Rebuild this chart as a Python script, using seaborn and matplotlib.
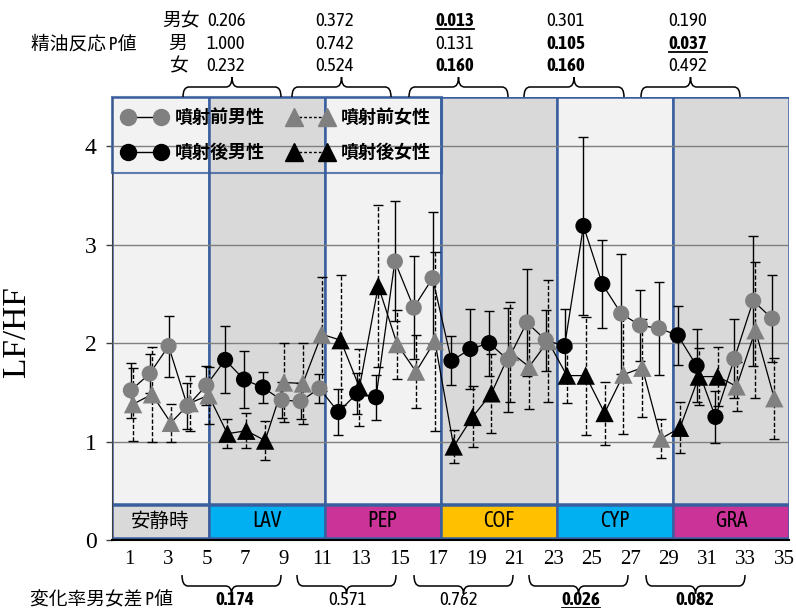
import numpy as np
import pandas as pd
import matplotlib.pyplot as plt
import seaborn as sns
from matplotlib import font_manager
from matplotlib.path import Path
from matplotlib.patches import PathPatch
from matplotlib.lines import Line2D

# ---- data ----
phase = ['前', '前', '前', '前', '前',
         '後', '後', '後', '前', '前', '前',
         '後', '後', '後', '前', '前', '前',
         '後', '後', '後', '前', '前', '前',
         '後', '後', '後', '前', '前', '前',
         '後', '後', '後', '前', '前', '前']

male_mean = [1.52, 1.69, 1.97, 1.36, 1.57, 1.83, 1.63, 1.55, 1.42, 1.41, 1.54,
             1.30, 1.49, 1.45, 2.83, 2.36, 2.66, 1.82, 1.94, 2.00, 1.83, 2.21,
             2.03, 1.97, 3.19, 2.60, 2.30, 2.18, 2.15, 2.08, 1.77, 1.25, 1.84,
             2.43, 2.25]
male_sd = [0.28, 0.20, 0.31, 0.23, 0.20, 0.34, 0.29, 0.16, 0.18, 0.18, 0.15,
           0.23, 0.21, 0.23, 0.61, 0.52, 0.67, 0.25, 0.41, 0.33, 0.53, 0.54,
           0.31, 0.38, 0.90, 0.45, 0.61, 0.36, 0.47, 0.30, 0.37, 0.26, 0.40,
           0.66, 0.44]

female_mean = [1.38, 1.48, 1.19, 1.39, 1.47, 1.08, 1.11, 1.01, 1.60, 1.59, 2.09,
               2.03, 1.55, 2.58, 1.99, 1.71, 2.02, 0.95, 1.25, 1.49, 1.91, 1.76,
               2.02, 1.67, 1.67, 1.29, 1.68, 1.75, 1.03, 1.14, 1.66, 1.66, 1.56,
               2.13, 1.44]
female_sd = [0.37, 0.48, 0.19, 0.28, 0.29, 0.15, 0.18, 0.20, 0.40, 0.41, 0.58,
             0.66, 0.39, 0.82, 0.35, 0.37, 0.91, 0.17, 0.31, 0.40, 0.51, 0.43,
             0.62, 0.28, 0.60, 0.32, 0.60, 0.50, 0.20, 0.26, 0.29, 0.30, 0.25,
             0.69, 0.41]

band_names = ['安静時', 'LAV', 'PEP', 'COF', 'CYP', 'GRA']
band_edges = [0, 5, 11, 17, 23, 29, 35]
band_colors = ['#d9d9d9', '#00b0f0', '#cc3399', '#ffc000', '#00b0f0', '#cc3399']
band_bg = ['#f2f2f2', '#d9d9d9', '#f2f2f2', '#d9d9d9', '#f2f2f2', '#d9d9d9']

tick_labels = list(range(1, 36, 2))

p_both = ['0.206', '0.372', '0.013', '0.301', '0.190']
p_male = ['1.000', '0.742', '0.131', '0.105', '0.037']
p_female = ['0.232', '0.524', '0.160', '0.160', '0.492']
p_diff = ['0.174', '0.571', '0.762', '0.026', '0.082']
# 0 = plain, 1 = bold, 2 = bold + underline
st_both = [0, 0, 2, 0, 0]
st_male = [0, 0, 0, 1, 2]
st_female = [0, 0, 1, 1, 0]
st_diff = [1, 0, 0, 2, 1]

df = pd.DataFrame({'pos': np.arange(1, len(male_mean) + 1), 'phase': phase,
                   'male': male_mean, 'male_sd': male_sd,
                   'female': female_mean, 'female_sd': female_sd})
df['pos_f'] = df['pos'] + 0.12

# ---- fonts: look for a condensed sans that has a bold face ----
ttf = font_manager.fontManager.ttflist
weights = {}
for f in ttf:
    if ('Narrow' in f.name or 'Condensed' in f.name) and f.style == 'normal':
        w = f.weight if isinstance(f.weight, int) else (700 if 'bold' in str(f.weight) else 400)
        weights.setdefault(f.name, set()).add(w)
narrow, stretch = 'Liberation Sans', 'normal'
for name, ws in weights.items():
    if min(ws) <= 400 and max(ws) >= 700:
        narrow = name
        break
else:
    for f in ttf:
        if f.name == 'DejaVu Sans' and f.stretch in ('condensed', 'semi-condensed'):
            narrow, stretch = 'DejaVu Sans', 'condensed'
            break
serif = 'Liberation Serif'
cjk = 'Noto Sans CJK JP'
plt.rcParams['font.family'] = [narrow, cjk, 'DejaVu Sans']
num_size = 13.5 if narrow != 'Liberation Sans' else 11.5

W, H = 796, 608
fig = plt.figure(figsize=(W / 100, H / 100), dpi=100)
ax = fig.add_axes([112 / W, 1 - 540 / H, 677 / W, 443 / H])

XMAX = 35.9
sc = XMAX / 35
YMAX = 4.5
blue = '#3a5f9f'

# background bands + label boxes
for i, name in enumerate(band_names):
    x0, x1 = band_edges[i] * sc, band_edges[i + 1] * sc
    ax.axvspan(x0, x1, ymin=0.37 / YMAX, ymax=1, facecolor=band_bg[i],
               edgecolor=blue, lw=1.8, zorder=0.1)
    ax.axvspan(x0, x1, ymin=0.02 / YMAX, ymax=0.355 / YMAX, facecolor=band_colors[i],
               edgecolor=blue, lw=1.8, zorder=0.2)
    ax.text((x0 + x1) / 2, 0.19, name, ha='center', va='center',
            fontsize=14 if i == 0 else 15.5,
            family=[narrow, cjk], fontstretch=stretch, zorder=6)

# error bars
eb = ax.errorbar(df['pos'], df['male'], yerr=df['male_sd'], fmt='none', ecolor='black',
                 elinewidth=1, capsize=3.5, capthick=1, zorder=2.6)
eb = ax.errorbar(df['pos_f'], df['female'], yerr=df['female_sd'], fmt='none', ecolor='black',
                 elinewidth=1, capsize=3.5, capthick=1, zorder=2.6)
eb[2][0].set_linestyle((0, (3, 1.5)))

# connecting lines
sns.lineplot(data=df, x='pos', y='male', color='black', lw=0.9, estimator=None,
             sort=False, ax=ax, zorder=3)
sns.lineplot(data=df, x='pos_f', y='female', color='black', lw=0.9, estimator=None,
             sort=False, ax=ax, zorder=3)

pal = {'前': '#808080', '後': 'black'}
sns.scatterplot(data=df, x='pos', y='male', hue='phase', palette=pal, marker='o', s=135,
                linewidth=0, legend=False, ax=ax, zorder=4)
sns.scatterplot(data=df, x='pos_f', y='female', hue='phase', palette=pal, marker='^', s=175,
                linewidth=0, legend=False, ax=ax, zorder=5)

ax.set_xlim(0, XMAX)
ax.set_ylim(0, YMAX)
ax.set_yticks([0, 1, 2, 3, 4])
ax.set_yticklabels(['0', '1', '2', '3', '4'], fontfamily=serif, fontsize=17)
ax.set_xticks((110.5 + 19.25 * np.array(tick_labels) - 112) / (677 / XMAX))
ax.set_xticklabels([str(t) for t in tick_labels], fontfamily=serif, fontsize=15)
ax.tick_params(axis='y', length=4, width=1, pad=7, color='#404040')
ax.tick_params(axis='x', length=0, pad=7)
ax.set_xlabel('')
ax.set_ylabel('LF/HF', fontfamily=serif, fontsize=24)
ax.yaxis.set_label_coords(-0.118, 0.47)
ax.grid(axis='y', color='#7f7f7f', lw=1)
ax.set_axisbelow(True)
for s in ['top', 'right']:
    ax.spines[s].set_visible(False)
ax.spines['left'].set_color('#404040')
ax.spines['bottom'].set_color('black')
ax.spines['bottom'].set_linewidth(1.5)

# legend
gray = '#808080'
handles = [
    Line2D([0], [0], color='black', lw=1, marker='o', ms=11.5, mfc=gray, mec=gray),
    Line2D([0], [0], color='black', lw=1, marker='o', ms=11.5, mfc='black', mec='black'),
    Line2D([0], [0], color='black', lw=1, ls=(0, (2, 1.5)), marker='^', ms=13, mfc=gray, mec=gray),
    Line2D([0], [0], color='black', lw=1, ls=(0, (2, 1.5)), marker='^', ms=13, mfc='black', mec='black'),
]
labels = ['噴射前男性', '噴射後男性', '噴射前女性', '噴射後女性']
leg = ax.legend(handles, labels, ncol=2, numpoints=2, loc='upper left', bbox_to_anchor=(0, 1),
                borderaxespad=0, handlelength=2.4, handletextpad=0.5, columnspacing=1.3,
                borderpad=0.6, labelspacing=0.9, fancybox=False,
                prop={'family': [cjk], 'weight': 'bold', 'size': 13})
leg.get_frame().set_facecolor('none')
leg.get_frame().set_edgecolor(blue)
leg.get_frame().set_linewidth(1.5)
leg.set_zorder(7)


def fx(x):
    return x / W


def fy(y):
    return 1 - y / H


def brace(xl, xr, y_end, y_mid, y_tip, r=6):
    xm = (xl + xr) / 2
    pts = [(xl, y_end), (xl, y_mid), (xl + r, y_mid), (xm - r, y_mid), (xm, y_mid), (xm, y_tip),
           (xm, y_mid), (xm + r, y_mid), (xr - r, y_mid), (xr, y_mid), (xr, y_end)]
    codes = [Path.MOVETO, Path.CURVE3, Path.CURVE3, Path.LINETO, Path.CURVE3, Path.CURVE3,
             Path.CURVE3, Path.CURVE3, Path.LINETO, Path.CURVE3, Path.CURVE3]
    path = Path([(fx(a), fy(b)) for a, b in pts], codes)
    fig.add_artist(PathPatch(path, facecolor='none', edgecolor='black', lw=1.1,
                             transform=fig.transFigure))


top_x = [226, 335, 455, 566, 688]
top_braces = [(183, 281), (292, 391), (409, 508), (524, 624), (641, 740)]
bot_x = [235, 348, 459, 581, 695]
bot_braces = [(182, 281), (297, 396), (414, 513), (529, 628), (646, 745)]

underlined = []


def ptext(x, y, s, style):
    t = fig.text(fx(x), fy(y), s, ha='center', va='center', fontsize=num_size,
                 family=[narrow], fontstretch=stretch, weight='bold' if style else 'normal')
    if style == 2:
        underlined.append(t)


for rows_y, vals, sts in [(21, p_both, st_both), (44, p_male, st_male), (66, p_female, st_female)]:
    for x, v, s in zip(top_x, vals, sts):
        ptext(x, rows_y, v, s)
for x, v, s in zip(bot_x, p_diff, st_diff):
    ptext(x, 600, v, s)

fig.text(fx(84), fy(45), '精油反応 P値', ha='center', va='center', fontsize=13.5, fontstretch=stretch)
fig.text(fx(181), fy(21), '男女', ha='center', va='center', fontsize=13.5)
fig.text(fx(178), fy(44), '男', ha='center', va='center', fontsize=13.5)
fig.text(fx(178), fy(66), '女', ha='center', va='center', fontsize=13.5)
fig.text(fx(102), fy(600), '変化率男女差 P値', ha='center', va='center', fontsize=13.5, fontstretch=stretch)

for xl, xr in top_braces:
    brace(xl, xr, 97, 87, 77)
for xl, xr in bot_braces:
    brace(xl, xr, 575, 586, 594)

fig.canvas.draw()
inv = fig.transFigure.inverted()
for t in underlined:
    bb = t.get_window_extent()
    (a0, b0), (a1, _) = inv.transform([(bb.x0, bb.y0 + 1), (bb.x1, bb.y0 + 1)])
    fig.add_artist(Line2D([a0, a1], [b0, b0], color='black', lw=1.3, transform=fig.transFigure))

fig.savefig('out.png', dpi=100)
